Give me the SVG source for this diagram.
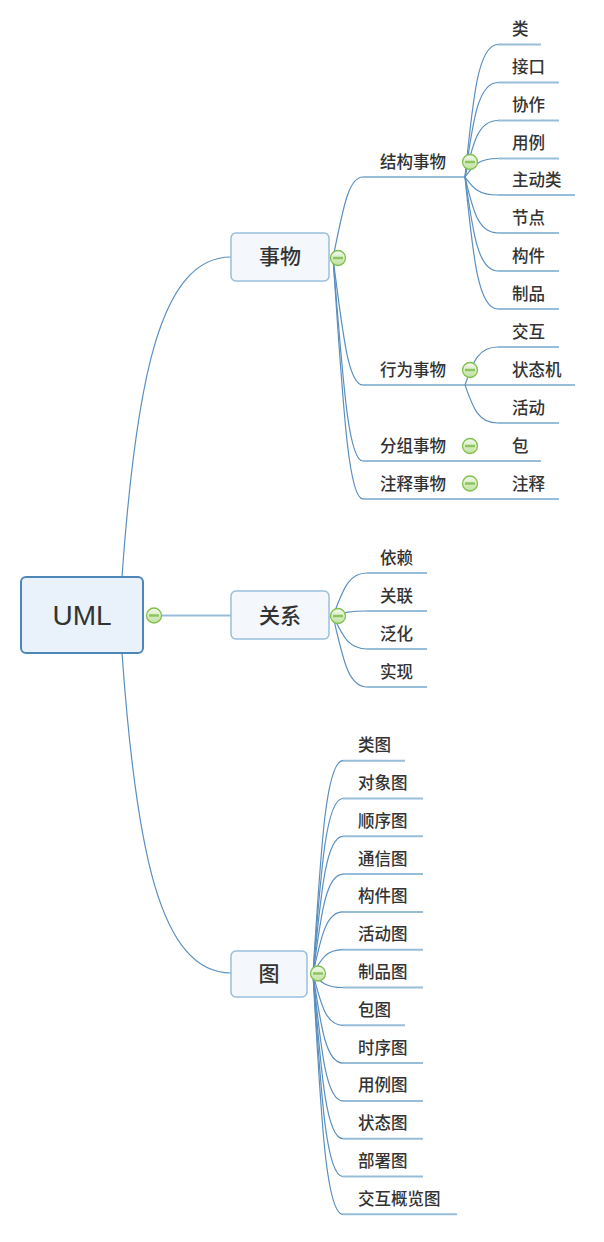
<svg xmlns="http://www.w3.org/2000/svg" width="604" height="1242" viewBox="0 0 604 1242">
<style>
.cv{fill:none;stroke:#5a8fbf;stroke-width:1.2}
.ul{fill:none;stroke:#97bdd9;stroke-width:2}
.mn{fill:#f4f8fd;stroke:#98bedb;stroke-width:1.5}
.t{font-family:"Noto Sans CJK SC","Noto Sans",sans-serif;font-size:16.5px;font-weight:500;fill:#333}
.tm{font-family:"Noto Sans CJK SC","Noto Sans",sans-serif;font-size:21px;font-weight:500;fill:#333;text-anchor:middle}
.cb{fill:url(#g);stroke:#80c050;stroke-width:1.3}
.mi{stroke:#8cc462;stroke-width:2.5}
</style>
<defs>
<linearGradient id="g" x1="0" y1="0" x2="0" y2="1">
<stop offset="0" stop-color="#f4faee"/>
<stop offset="1" stop-color="#bfe09c"/>
</linearGradient>
</defs>
<rect width="604" height="1242" fill="#fff"/>
<g id="connectors">
<path class="cv" d="M122 577 C136 380 160 257 231 257"/>
<path class="cv" d="M122 653 C136 850 160 973 231 973"/>
<path class="ul" d="M161 615.5 H231"/>
<path class="cv" d="M333 258 C343 209.4 348 177 363 177"/>
<path class="cv" d="M333 258 C343 334.2 348 385 363 385"/>
<path class="cv" d="M333 258 C343 379.8 348 461 363 461"/>
<path class="cv" d="M333 258 C343 402.6 348 499 363 499"/>
<path class="ul" d="M363 177 H465"/>
<path class="ul" d="M363 385 H575"/>
<path class="ul" d="M363 461 H541"/>
<path class="ul" d="M363 499 H559"/>
<path class="cv" d="M465 177 C473 97.5 478 44.5 498 44.5"/>
<path class="cv" d="M465 177 C473 120.3 478 82.5 498 82.5"/>
<path class="cv" d="M465 177 C473 143.1 478 120.5 498 120.5"/>
<path class="cv" d="M465 177 C473 165.9 478 158.5 498 158.5"/>
<path class="cv" d="M465 177 C473 187.8 478 195 498 195"/>
<path class="cv" d="M465 177 C473 210.6 478 233 498 233"/>
<path class="cv" d="M465 177 C473 233.4 478 271 498 271"/>
<path class="cv" d="M465 177 C473 256.2 478 309 498 309"/>
<path class="ul" d="M498 44.5 H541 M498 82.5 H559 M498 120.5 H559 M498 158.5 H559 M498 195 H575 M498 233 H559 M498 271 H559 M498 309 H559"/>
<path class="cv" d="M465 385 C473 362.2 478 347 498 347"/>
<path class="cv" d="M465 385 C473 407.8 478 423 498 423"/>
<path class="ul" d="M498 347 H559 M498 423 H559"/>
<path class="cv" d="M333 616 C343 590.2 348 573 367 573"/>
<path class="cv" d="M333 616 C343 613 348 611 367 611"/>
<path class="cv" d="M333 616 C343 635.8 348 649 367 649"/>
<path class="cv" d="M333 616 C343 658.6 348 687 367 687"/>
<path class="ul" d="M367 573 H427 M367 611 H427 M367 649 H427 M367 687 H427"/>
<path class="cv" d="M313 974 C321 846 326 760.7 343 760.7"/>
<path class="cv" d="M313 974 C321 868.7 326 798.5 343 798.5"/>
<path class="cv" d="M313 974 C321 891.4 326 836.3 343 836.3"/>
<path class="cv" d="M313 974 C321 914.1 326 874.1 343 874.1"/>
<path class="cv" d="M313 974 C321 936.7 326 911.9 343 911.9"/>
<path class="cv" d="M313 974 C321 959.4 326 949.7 343 949.7"/>
<path class="cv" d="M313 974 C321 982.1 326 987.5 343 987.5"/>
<path class="cv" d="M313 974 C321 1004.8 326 1025.3 343 1025.3"/>
<path class="cv" d="M313 974 C321 1027.5 326 1063.1 343 1063.1"/>
<path class="cv" d="M313 974 C321 1050.1 326 1100.9 343 1100.9"/>
<path class="cv" d="M313 974 C321 1072.8 326 1138.7 343 1138.7"/>
<path class="cv" d="M313 974 C321 1095.5 326 1176.5 343 1176.5"/>
<path class="cv" d="M313 974 C321 1118.2 326 1214.3 343 1214.3"/>
<path class="ul" d="M343 760.7 H405 M343 798.5 H423 M343 836.3 H423 M343 874.1 H423 M343 911.9 H423 M343 949.7 H423 M343 987.5 H423 M343 1025.3 H405 M343 1063.1 H423 M343 1100.9 H423 M343 1138.7 H423 M343 1176.5 H423 M343 1214.3 H457"/>
</g>
<g id="uml">
<rect x="21" y="577" width="122" height="76" rx="5" fill="#e9f2fb" stroke="#4c87b8" stroke-width="2"/>
<text x="82" y="624.5" font-family="Liberation Sans, Arial, sans-serif" font-size="28" fill="#333" text-anchor="middle">UML</text>
<circle class="cb" cx="154" cy="615.5" r="7.5"/><path class="mi" d="M149 615.5 H159"/>
</g>
<g id="things">
<rect class="mn" x="231" y="233" width="98" height="48" rx="5"/>
<text class="tm" x="280" y="264">事物</text>
<circle class="cb" cx="338" cy="258" r="7.5"/><path class="mi" d="M333 258 H343"/>
</g>
<g id="relations">
<rect class="mn" x="231" y="591" width="98" height="48" rx="5"/>
<text class="tm" x="280" y="622.5">关系</text>
<circle class="cb" cx="338" cy="616" r="7.5"/><path class="mi" d="M333 616 H343"/>
</g>
<g id="diagrams">
<rect class="mn" x="231" y="951" width="76" height="46" rx="5"/>
<text class="tm" x="269" y="981">图</text>
<circle class="cb" cx="318" cy="973.5" r="7.5"/><path class="mi" d="M313 973.5 H323"/>
</g>
<g id="structural"><text class="t" x="380" y="167.5">结构事物</text><circle class="cb" cx="470" cy="162" r="7.5"/><path class="mi" d="M465 162 H475"/></g>
<g id="behavioral"><text class="t" x="380" y="375.5">行为事物</text><circle class="cb" cx="470" cy="370" r="7.5"/><path class="mi" d="M465 370 H475"/></g>
<g id="grouping"><text class="t" x="380" y="451.5">分组事物</text><circle class="cb" cx="470" cy="446" r="7.5"/><path class="mi" d="M465 446 H475"/></g>
<g id="annotational"><text class="t" x="380" y="489.5">注释事物</text><circle class="cb" cx="470" cy="483.5" r="7.5"/><path class="mi" d="M465 483.5 H475"/></g>
<g id="s-class"><text class="t" x="512" y="34.5">类</text></g>
<g id="s-interface"><text class="t" x="512" y="72.5">接口</text></g>
<g id="s-collab"><text class="t" x="512" y="110.5">协作</text></g>
<g id="s-usecase"><text class="t" x="512" y="148.5">用例</text></g>
<g id="s-activeclass"><text class="t" x="512" y="185.5">主动类</text></g>
<g id="s-node"><text class="t" x="512" y="223.5">节点</text></g>
<g id="s-component"><text class="t" x="512" y="261.5">构件</text></g>
<g id="s-artifact"><text class="t" x="512" y="299.5">制品</text></g>
<g id="b-interaction"><text class="t" x="512" y="337.5">交互</text></g>
<g id="b-statemachine"><text class="t" x="512" y="375.5">状态机</text></g>
<g id="b-activity"><text class="t" x="512" y="413.5">活动</text></g>
<g id="g-package"><text class="t" x="512" y="451.5">包</text></g>
<g id="a-note"><text class="t" x="512" y="489.5">注释</text></g>
<g id="r-dependency"><text class="t" x="380" y="563.5">依赖</text></g>
<g id="r-association"><text class="t" x="380" y="601.5">关联</text></g>
<g id="r-generalization"><text class="t" x="380" y="639.5">泛化</text></g>
<g id="r-realization"><text class="t" x="380" y="677.5">实现</text></g>
<g id="d1"><text class="t" x="358" y="751.2">类图</text></g>
<g id="d2"><text class="t" x="358" y="789">对象图</text></g>
<g id="d3"><text class="t" x="358" y="826.8">顺序图</text></g>
<g id="d4"><text class="t" x="358" y="864.6">通信图</text></g>
<g id="d5"><text class="t" x="358" y="902.4">构件图</text></g>
<g id="d6"><text class="t" x="358" y="940.2">活动图</text></g>
<g id="d7"><text class="t" x="358" y="978">制品图</text></g>
<g id="d8"><text class="t" x="358" y="1015.8">包图</text></g>
<g id="d9"><text class="t" x="358" y="1053.6">时序图</text></g>
<g id="d10"><text class="t" x="358" y="1091.4">用例图</text></g>
<g id="d11"><text class="t" x="358" y="1129.2">状态图</text></g>
<g id="d12"><text class="t" x="358" y="1167">部署图</text></g>
<g id="d13"><text class="t" x="358" y="1204.8">交互概览图</text></g>
</svg>
